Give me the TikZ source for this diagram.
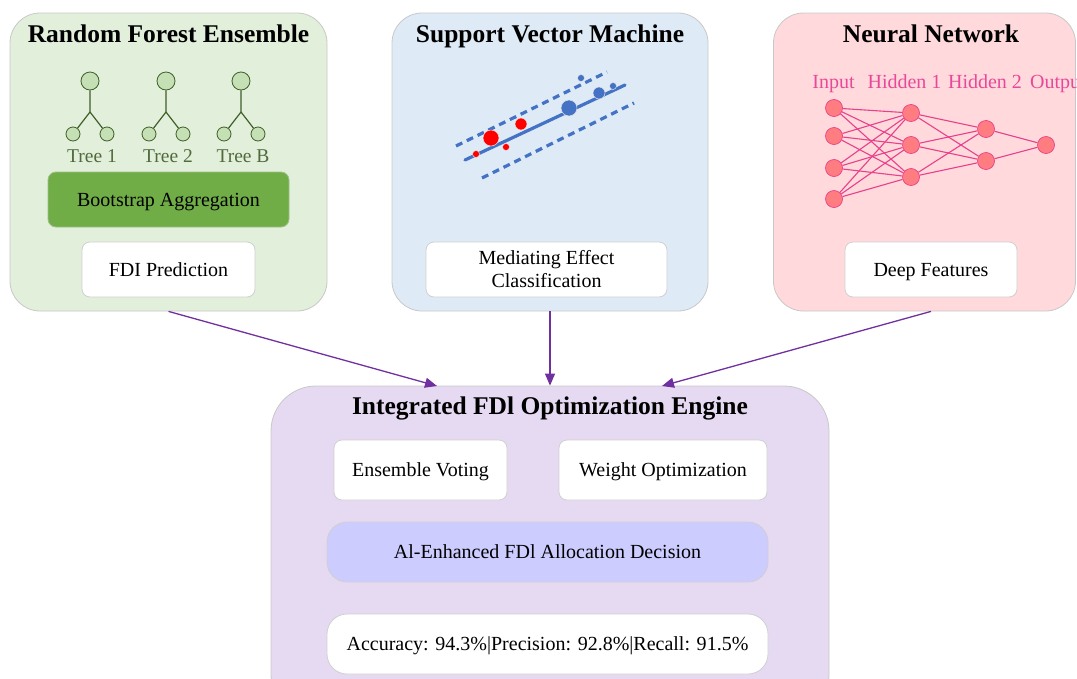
\documentclass[tikz,border=0pt]{standalone}
\usepackage{fontspec}
\setmainfont{Liberation Serif}
\usetikzlibrary{arrows.meta}
\definecolor{rfbg}{HTML}{E2EFDA}
\definecolor{svmbg}{HTML}{DEEBF7}
\definecolor{nnbg}{HTML}{FFD9DB}
\definecolor{engbg}{HTML}{E6DAF2}
\definecolor{panelline}{HTML}{C8C8C8}
\definecolor{boxline}{HTML}{D0D0D0}
\definecolor{bagg}{HTML}{70AD47}
\definecolor{treefill}{HTML}{C5E0B4}
\definecolor{treeline}{HTML}{3F5F2A}
\definecolor{treetext}{HTML}{4F6B3C}
\definecolor{svmblue}{HTML}{4472C4}
\definecolor{svmred}{HTML}{FF0000}
\definecolor{nnfill}{HTML}{FF7C80}
\definecolor{nnline}{HTML}{E8408C}
\definecolor{nntext}{HTML}{E8489A}
\definecolor{aibox}{HTML}{CCCCFF}
\definecolor{arrowc}{HTML}{7030A0}
\begin{document}
\begin{tikzpicture}[x=1pt,y=-1pt,
  panel/.style={draw=panelline, line width=0.8pt, rounded corners=30pt, inner sep=0pt},
  title/.style={font=\fontsize{25.5}{30}\selectfont\bfseries, inner sep=0pt, anchor=base},
  boxbase/.style={draw=boxline, line width=0.8pt, fill=white, rounded corners=8pt, font=\fontsize{20}{23}\selectfont, align=center, inner sep=0pt},
  wbox/.style={boxbase, text height=17.5pt, text depth=4.5pt},
  tnode/.style={circle, draw=treeline, fill=treefill, line width=0.8pt, inner sep=0pt},
  tlab/.style={font=\fontsize{19.5}{22}\selectfont, text=treetext, inner sep=0pt, anchor=base},
  tline/.style={draw=treeline, line width=1.2pt},
  sdot/.style={circle, draw=white!80!gray, line width=0.5pt, inner sep=0pt},
  neuron/.style={circle, draw=nnline, fill=nnfill, line width=0.7pt, minimum size=17pt, inner sep=0pt},
  nedge/.style={draw=nnline, line width=1.1pt},
  nlab/.style={font=\fontsize{20}{23}\selectfont, text=nntext, inner sep=0pt, anchor=base},
  flow/.style={draw=arrowc, line width=1.3pt, -{Triangle[length=12pt,width=10pt]}}
]
\useasboundingbox (0,0) rectangle (1077,678);
\clip (0,0) rectangle (1077,678);

% ---- panels ----
\node[panel, fill=rfbg, minimum width=317pt, minimum height=298pt] (rf) at (168.5,162) {};
\node[panel, fill=svmbg, minimum width=316pt, minimum height=298pt] (svm) at (550,162) {};
\node[panel, fill=nnbg, minimum width=302pt, minimum height=298pt] (nn) at (924.5,162) {};
\node[panel, fill=engbg, rounded corners=45pt, minimum width=558pt, minimum height=334pt] (eng) at (550,553) {};

% ---- titles ----
\node[title] (rft) at (168.5,42) {Random Forest Ensemble};
\node[title] (svmt) at (550,42) {Support Vector Machine};
\node[title] (nnt) at (931,42) {Neural Network};
\node[title] (engt) at (550,414) {Integrated FDl Optimization Engine};

% ---- random forest trees ----
\foreach \n/\x/\lab in {a/90/Tree 1, b/166/Tree 2, c/241/Tree B}{
  \node[tnode, minimum size=18pt] (r\n) at (\x,81) {};
  \coordinate (j\n) at (\x,112);
  \node[tnode, minimum size=14pt] (l\n) at (\x-17,134) {};
  \node[tnode, minimum size=14pt] (q\n) at (\x+17,134) {};
  \draw[tline] (r\n) -- (j\n) -- (l\n);
  \draw[tline] (j\n) -- (q\n);
  \node[tlab] (t\n) at (\x+2,162.5) {\lab};
}
\node[wbox, fill=bagg, draw=bagg!85!black!60, minimum width=241pt, minimum height=55pt] (bag) at (168.5,199.5) {Bootstrap Aggregation};
\node[wbox, minimum width=173pt, minimum height=55pt] (fdi) at (168.5,269.5) {FDI Prediction};

% ---- SVM ----
\coordinate (ua) at (456,146); \coordinate (ub) at (607,72);
\coordinate (ma) at (465,160); \coordinate (mb) at (625,85);
\coordinate (da) at (482,178); \coordinate (db) at (634,103);
\draw[svmblue, line width=3.2pt, dash pattern=on 7pt off 5pt] (ua) -- (ub);
\draw[svmblue, line width=3.2pt, line cap=round] (ma) -- (mb);
\draw[svmblue, line width=3.2pt, dash pattern=on 7pt off 5pt] (da) -- (db);
\node[sdot, fill=svmred, minimum size=16pt] (r1) at (491,138) {};
\node[sdot, fill=svmred, minimum size=12pt] (r2) at (521,124) {};
\node[sdot, fill=svmred, minimum size=7pt] (r3) at (476,154) {};
\node[sdot, fill=svmred, minimum size=7pt] (r4) at (506,147) {};
\node[sdot, fill=svmblue, minimum size=16pt] (b1) at (569,108) {};
\node[sdot, fill=svmblue, minimum size=12pt] (b2) at (599,93) {};
\node[sdot, fill=svmblue, minimum size=7pt] (b3) at (581,78) {};
\node[sdot, fill=svmblue, minimum size=7pt] (b4) at (613,86) {};
\node[boxbase, minimum width=241pt, minimum height=55pt] (med) at (546.5,269.5) {};
\node[font=\fontsize{20}{23}\selectfont, inner sep=0pt, anchor=base] (med1) at (546.5,264) {Mediating Effect};
\node[font=\fontsize{20}{23}\selectfont, inner sep=0pt, anchor=base] (med2) at (546.5,287.5) {Classification};

% ---- neural network ----
\node[nlab] (li) at (833.5,88.5) {Input};
\node[nlab] (lh1) at (904.5,88.5) {Hidden 1};
\node[nlab] (lh2) at (985,88.5) {Hidden 2};
\node[nlab, anchor=base west] (lo) at (1030,88.5) {Output};
\foreach \i/\y in {1/108,2/136,3/168,4/199}{\node[neuron] (i\i) at (834,\y) {};}
\foreach \i/\y in {1/113,2/145,3/177}{\node[neuron] (h\i) at (911,\y) {};}
\foreach \i/\y in {1/129,2/161}{\node[neuron] (g\i) at (986,\y) {};}
\node[neuron] (o1) at (1046,145) {};
\foreach \a in {1,...,4}{\foreach \b in {1,2,3}{\draw[nedge] (i\a) -- (h\b);}}
\foreach \a in {1,2,3}{\foreach \b in {1,2}{\draw[nedge] (h\a) -- (g\b);}}
\foreach \a in {1,2}{\draw[nedge] (g\a) -- (o1);}
\node[wbox, minimum width=172pt, minimum height=55pt] (dfe) at (931,269.5) {Deep Features};

% ---- engine contents ----
\node[wbox, minimum width=173pt, minimum height=60pt] (ens) at (420.5,470) {Ensemble Voting};
\node[wbox, minimum width=208pt, minimum height=60pt] (wgt) at (663,470) {Weight Optimization};
\node[wbox, fill=aibox, rounded corners=20pt, minimum width=441pt, minimum height=60pt] (ai) at (547.5,552) {Al-Enhanced FDl Allocation Decision};
\node[wbox, rounded corners=20pt, minimum width=441pt, minimum height=60pt] (acc) at (547.5,644) {Accuracy: 94.3\%|Precision: 92.8\%|Recall: 91.5\%};

% ---- connectors ----
\coordinate (e1) at (437,386);
\coordinate (e3) at (662,386);
\draw[flow] (fdi |- rf.south) -- (e1);
\draw[flow] (svm.south) -- (eng.north);
\draw[flow] (dfe |- nn.south) -- (e3);
\end{tikzpicture}
\end{document}
